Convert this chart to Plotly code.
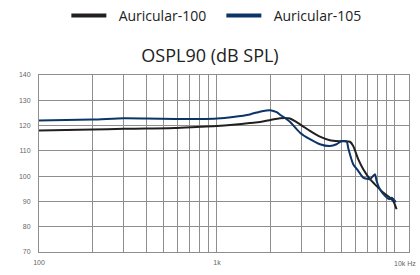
import plotly.graph_objects as go
import math

# Frequencies (Hz) and OSPL90 values (dB SPL)
freq_100 = [100, 200, 300, 400, 580, 800, 1000, 1230, 1530, 1750, 2000, 2260, 2570,
            2930, 3330, 3790, 4310, 4900, 5590, 5830, 6220, 6640, 7240, 7890, 8600,
            9370, 9780, 10220]
ospl_100 = [118.1, 118.4, 118.7, 118.8, 119.0, 119.5, 119.8, 120.3, 121.0, 121.4, 122.2,
            122.9, 122.8, 120.5, 117.9, 115.6, 114.2, 113.8, 113.6, 111.9, 106.7, 102.7,
            98.8, 96.1, 93.5, 91.5, 90.2, 86.9]

freq_105 = [100, 200, 300, 400, 580, 800, 1000, 1230, 1530, 1740, 1900, 1990, 2165,
            2260, 2410, 2570, 2930, 3330, 3790, 4310, 4700, 5020, 5360, 5470, 5830,
            6220, 6640, 7240, 7720, 7890, 8235, 8790, 9290, 9580, 10000, 10100]
ospl_105 = [122.0, 122.4, 122.9, 122.8, 122.6, 122.6, 122.8, 123.4, 124.4, 125.5, 126.0,
            126.1, 125.3, 124.3, 123.0, 121.5, 117.2, 114.6, 112.6, 111.9, 112.6, 113.9,
            113.7, 111.0, 104.7, 102.1, 99.4, 98.8, 100.8, 98.1, 94.8, 92.2, 90.9, 91.5,
            90.2, 89.6]

series_names = ["Auricular-100", "Auricular-105"]
series_colors = ["#231f20", "#0b3566"]

grid_freqs = [100, 200, 300, 400, 500, 600, 700, 800, 900,
              1000, 2000, 3000, 4000, 5000, 6000, 7000, 8000, 9000, 10000]
x_tick_text = ["100", "", "", "", "", "", "", "", "",
               "1k", "", "", "", "", "", "", "", "", ""]
y_ticks = [70, 80, 90, 100, 110, 120, 130, 140]

fig = go.Figure()
for f, v, name, col in [(freq_100, ospl_100, series_names[0], series_colors[0]),
                        (freq_105, ospl_105, series_names[1], series_colors[1])]:
    fig.add_trace(go.Scatter(x=f, y=v, mode="lines", name=name, showlegend=False,
                             line=dict(color=col, width=2, shape="spline", smoothing=0.6)))
    fig.add_trace(go.Scatter(x=[None], y=[None], mode="lines", name="\u00a0\u00a0" + name,
                             line=dict(color=col, width=4)))

fig.update_layout(
    width=420, height=275,
    margin=dict(l=39, r=11, t=75, b=23, autoexpand=False),
    paper_bgcolor="white", plot_bgcolor="white",
    font=dict(family="Open Sans", color="#222"),
    showlegend=True,
    legend=dict(orientation="h", x=0.5 - 3 / 420, xanchor="center", y=1 - 16 / 275,
                yref="container", yanchor="middle", font=dict(size=14, color="#222"),
                itemwidth=35, entrywidth=105, entrywidthmode="pixels"),
    title=dict(text="OSPL90 (dB SPL)", x=0.5, xanchor="center", y=1 - 56 / 275,
               yref="container", yanchor="middle", font=dict(size=18, color="#222")),
)
fig.update_xaxes(type="log", range=[2, math.log10(12000)], tickvals=grid_freqs,
                 ticktext=x_tick_text, showgrid=True, gridcolor="#8e8e8e", gridwidth=1,
                 showline=True, linecolor="#8e8e8e", mirror=True, ticks="",
                 tickfont=dict(family="Liberation Sans", size=7, color="#666"),
                 ticklabelstandoff=4, zeroline=False, automargin=False)
fig.update_yaxes(range=[70, 140], tickvals=y_ticks, showgrid=True, gridcolor="#8e8e8e",
                 gridwidth=1, showline=True, linecolor="#8e8e8e", mirror=True, ticks="",
                 tickfont=dict(family="Liberation Sans", size=7, color="#666"),
                 ticklabelstandoff=6, zeroline=False, automargin=False)
fig.add_annotation(x=4, y=0, xref="x", yref="paper", text="10k Hz", showarrow=False,
                   xanchor="left", yanchor="top", xshift=-3, yshift=-6,
                   font=dict(family="Liberation Sans", size=7, color="#666"))

fig.write_html("out.html", config={"displayModeBar": False},
               post_script="document.body.style.margin='0';")
